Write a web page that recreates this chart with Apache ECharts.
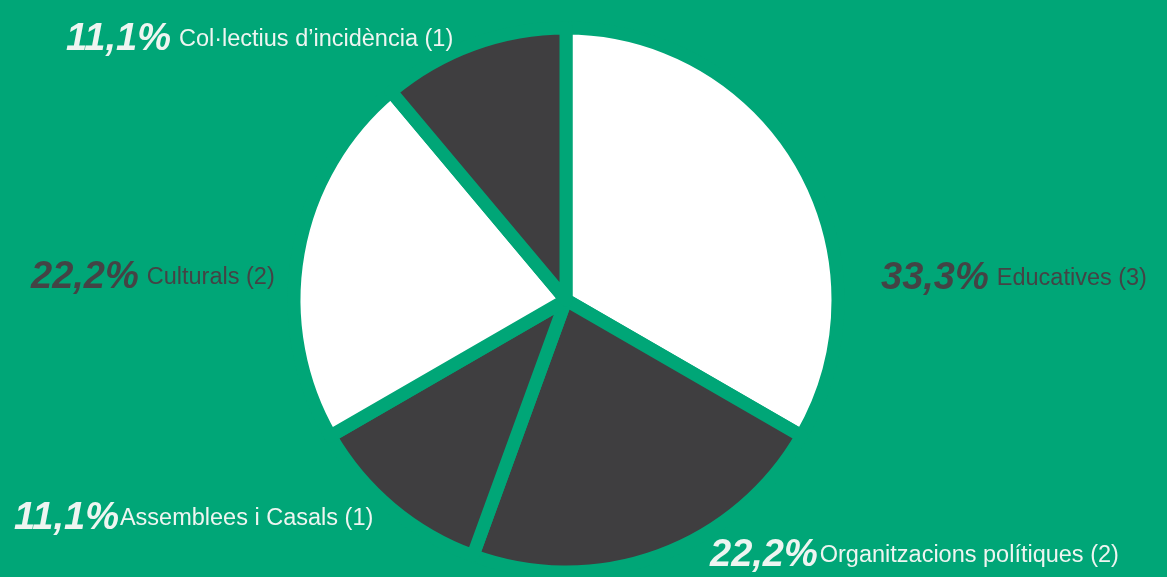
<!DOCTYPE html>
<html lang="ca">
<head>
    <meta charset="UTF-8">
    <title>Tipus d'entitats</title>
    <script src="https://cdn.jsdelivr.net/npm/echarts@6/dist/echarts.min.js"></script>
    <style>
        html, body { margin: 0; padding: 0; background: #00a677; }
        #chart { width: 1167px; height: 577px; }
    </style>
</head>
<body>
    <div id="chart"></div>
    <script>
        // dades
        var categories = ["Educatives", "Organitzacions polítiques", "Assemblees i Casals", "Culturals", "Col·lectius d’incidència"];
        var counts = [3, 2, 1, 2, 1];

        // estil de cada porció i on va cada etiqueta
        var sliceColors = ['#ffffff', '#3f3e40', '#3f3e40', '#ffffff', '#3f3e40'];
        var labelPos = [[881, 279], [710, 556], [14, 519], [31, 278], [66, 40]];
        var pctGap = [8, 2, 1, 8, 8];

        var green = '#00a677';
        var total = counts.reduce(function (a, b) { return a + b; }, 0);
        var chart = echarts.init(document.getElementById('chart'));

        var data = categories.map(function (name, i) {
            var txtColor = sliceColors[i] === '#ffffff' ? '#444345' : '#eef5f1';
            return {
                name: name,
                value: counts[i],
                itemStyle: { color: sliceColors[i] },
                label: {
                    rich: {
                        p: {
                            fontFamily: 'Liberation Sans, Arial, sans-serif',
                            fontWeight: 'bold',
                            fontStyle: 'italic',
                            fontSize: 38,
                            color: txtColor,
                            verticalAlign: 'middle',
                            padding: [0, pctGap[i], 0, 0]
                        },
                        n: {
                            fontFamily: 'Liberation Sans, Arial, sans-serif',
                            fontSize: 23.5,
                            color: txtColor,
                            verticalAlign: 'middle'
                        }
                    }
                }
            };
        });

        chart.setOption({
            backgroundColor: green,
            animation: false,
            series: [{
                type: 'pie',
                center: [566, 300],
                radius: 272,
                startAngle: 90,
                clockwise: true,
                data: data,
                itemStyle: {
                    borderColor: green,
                    borderWidth: 13
                },
                labelLine: { show: false },
                label: {
                    show: true,
                    position: 'outside',
                    overflow: 'none',
                    formatter: function (p) {
                        var pct = (p.value / total * 100).toFixed(1).replace('.', ',');
                        return '{p|' + pct + '%}{n|' + p.name + ' (' + p.value + ')}';
                    }
                },
                labelLayout: function (params) {
                    var pos = labelPos[params.dataIndex];
                    return { x: pos[0], y: pos[1], align: 'left', verticalAlign: 'middle' };
                },
                emphasis: { disabled: true }
            }]
        });
    </script>
</body>
</html>
